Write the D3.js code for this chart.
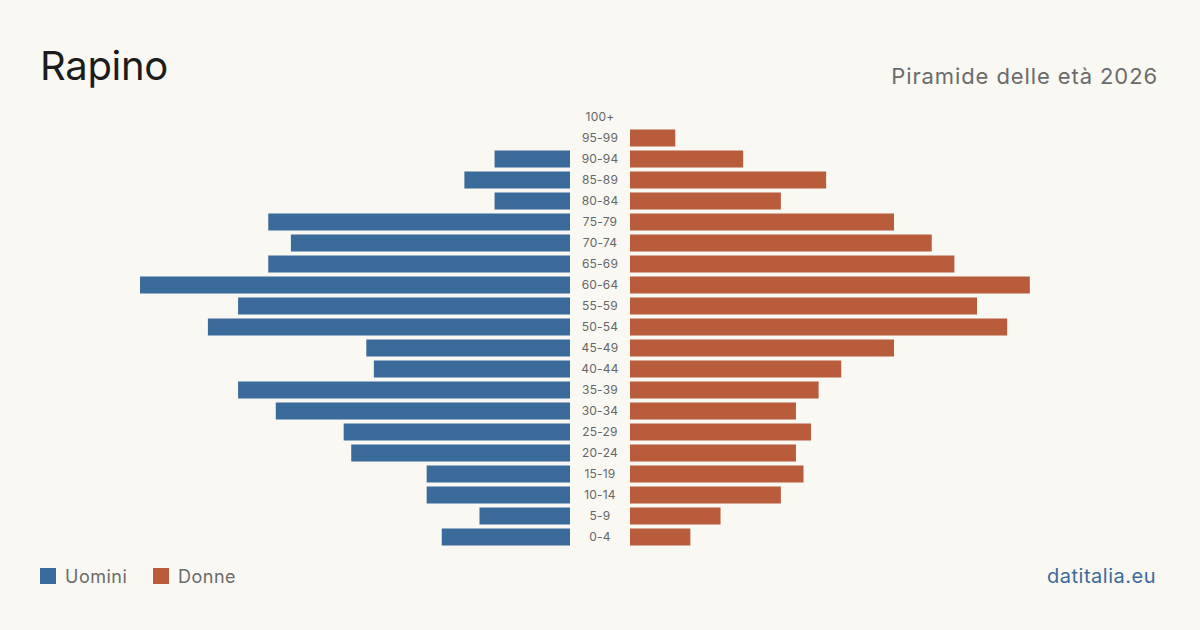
<!DOCTYPE html>
<html>
<head>
<meta charset="utf-8">
<script src="https://d3js.org/d3.v7.min.js"></script>
<style>
  body { margin: 0; background: #f9f8f3; }
  text { font-family: Inter, "Noto Sans", sans-serif; }
</style>
</head>
<body>
<div id="chart"></div>
<script>
// age groups, top to bottom
var ages = ["100+", "95-99", "90-94", "85-89", "80-84", "75-79", "70-74", "65-69", "60-64", "55-59",
            "50-54", "45-49", "40-44", "35-39", "30-34", "25-29", "20-24", "15-19", "10-14", "5-9", "0-4"];
var men   = [0, 0, 10, 14, 10, 40, 37, 40, 57, 44, 48, 27, 26, 44, 39, 30, 29, 19, 19, 12, 17];
var women = [0, 6, 15, 26, 20, 35, 40, 43, 53, 46, 50, 35, 28, 25, 22, 24, 22, 23, 20, 12, 8];

var width = 1200, height = 630;
var blue = "#3b6b9a", red = "#b85c3c";

var svg = d3.select("#chart").append("svg")
    .attr("width", width)
    .attr("height", height);

svg.append("rect").attr("width", width).attr("height", height).attr("fill", "#f9f8f3");

// scales
var x = d3.scaleLinear().domain([0, 57]).range([0, 430]);
var y = d3.scaleBand().domain(ages).range([106.5, 547.5]).paddingInner(0.19).paddingOuter(0.095);

var leftEdge = 570, rightEdge = 630;

// men bars (left)
svg.selectAll(".men")
    .data(ages)
    .enter()
    .append("rect")
    .attr("x", function(d, i) { return leftEdge - x(men[i]); })
    .attr("y", function(d) { return y(d); })
    .attr("width", function(d, i) { return x(men[i]); })
    .attr("height", y.bandwidth())
    .attr("fill", blue);

// women bars (right)
svg.selectAll(".women")
    .data(ages)
    .enter()
    .append("rect")
    .attr("x", rightEdge)
    .attr("y", function(d) { return y(d); })
    .attr("width", function(d, i) { return x(women[i]); })
    .attr("height", y.bandwidth())
    .attr("fill", red);

// age labels
svg.selectAll(".age")
    .data(ages)
    .enter()
    .append("text")
    .attr("x", 600)
    .attr("y", function(d) { return y(d) + y.bandwidth() / 2; })
    .attr("dy", "0.35em")
    .attr("text-anchor", "middle")
    .style("font-size", "12px")
    .style("letter-spacing", "0.2px")
    .attr("fill", "#666")
    .text(function(d) { return d; });

// title
svg.append("text")
    .attr("x", 40).attr("y", 80)
    .style("font-size", "40px")
    .style("letter-spacing", "-0.3px")
    .attr("fill", "#1c1c1c")
    .text("Rapino");

svg.append("text")
    .attr("x", 1158).attr("y", 84)
    .attr("text-anchor", "end")
    .style("font-size", "22px")
    .style("letter-spacing", "0.9px")
    .attr("fill", "#6b6b6b")
    .text("Piramide delle età 2026");

// legend
var legend = [["Uomini", blue, 40], ["Donne", red, 153]];
legend.forEach(function(l) {
    svg.append("rect").attr("x", l[2]).attr("y", 568).attr("width", 16).attr("height", 16).attr("fill", l[1]);
    svg.append("text").attr("x", l[2] + 25).attr("y", 583)
        .style("font-size", "18px").style("letter-spacing", "0.5px")
        .attr("fill", "#6b6b6b").text(l[0]);
});

svg.append("text")
    .attr("x", 1156).attr("y", 583)
    .attr("text-anchor", "end")
    .style("font-size", "20px")
    .style("letter-spacing", "0.5px")
    .attr("fill", blue)
    .text("datitalia.eu");
</script>
</body>
</html>
